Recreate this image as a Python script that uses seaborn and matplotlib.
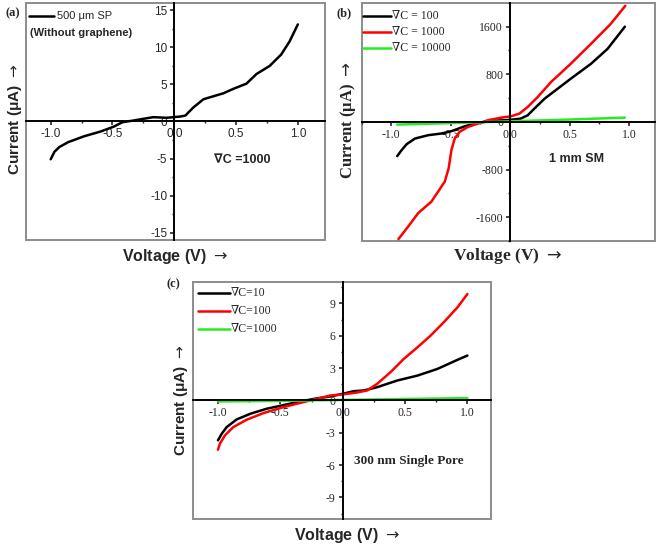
import numpy as np
import pandas as pd
import matplotlib
matplotlib.use("Agg")
from matplotlib import pyplot as plt
from matplotlib.patches import Rectangle
from matplotlib.ticker import MultipleLocator, FormatStrFormatter
import seaborn as sns

sns.set_style("white")
plt.rcParams['font.family'] = ['Liberation Sans', 'DejaVu Sans']
plt.rcParams['axes.unicode_minus'] = False
plt.rcParams['mathtext.fontset'] = 'dejavusans'
SERIF = ['Liberation Serif', 'DejaVu Serif']

# Panel (a): 500 um SP, without graphene
va = [-1.0, -0.97, -0.93, -0.86, -0.73, -0.595, -0.49, -0.42, -0.33, -0.25, -0.17,
      -0.06, 0.05, 0.09, 0.155, 0.236, 0.316, 0.397, 0.477, 0.584, 0.665, 0.772,
      0.866, 0.933, 1.0]
ia = [-5.1, -4.1, -3.45, -2.8, -2.0, -1.35, -0.7, -0.1, 0.13, 0.36, 0.58,
      0.5, 0.67, 0.8, 1.9, 3.0, 3.4, 3.8, 4.4, 5.1, 6.4, 7.5,
      9.05, 10.8, 13.1]

# Panel (b): 1 mm SM
vb_100 = [-0.95, -0.913, -0.87, -0.80, -0.69, -0.578, -0.494, -0.38, -0.27, -0.16,
          -0.047, 0.02, 0.09, 0.148, 0.204, 0.29, 0.40, 0.51, 0.68, 0.82, 0.966]
ib_100 = [-574, -474, -373, -279, -223, -195, -156, -72, -17, 17,
          28, 39, 56, 111, 223, 390, 557, 725, 975, 1226, 1600]
vb_1000 = [-0.94, -0.857, -0.774, -0.662, -0.606, -0.55, -0.517, -0.494, -0.466, -0.425,
           -0.355, -0.27, -0.187, -0.075, 0.008, 0.078, 0.148, 0.232, 0.344, 0.51,
           0.68, 0.846, 0.97]
ib_1000 = [-1968, -1756, -1533, -1338, -1171, -1003, -780, -474, -279, -167,
           -84, -28, 28, 72, 95, 139, 251, 418, 669, 975,
           1310, 1644, 1951]
vb_10000 = [-0.95, -0.5, 0.0, 0.5, 0.966]
ib_10000 = [-45, -20, 10, 40, 72]

# Panel (c): 300 nm single pore
vc_10 = [-1.0, -0.97, -0.93, -0.85, -0.74, -0.61, -0.475, -0.34, -0.21, -0.10,
         0.0, 0.088, 0.17, 0.276, 0.437, 0.6, 0.76, 0.92, 1.0]
ic_10 = [-3.7, -3.09, -2.47, -1.76, -1.23, -0.77, -0.43, -0.09, 0.19, 0.37,
         0.62, 0.86, 0.93, 1.23, 1.85, 2.31, 2.93, 3.77, 4.17]
vc_100 = [-1.0, -0.984, -0.944, -0.877, -0.77, -0.635, -0.475, -0.314, -0.206, -0.1,
          0.0, 0.115, 0.196, 0.276, 0.383, 0.49, 0.6, 0.705, 0.81, 0.92, 1.0]
ic_100 = [-4.57, -4.0, -3.24, -2.47, -1.79, -1.17, -0.62, -0.15, 0.15, 0.46,
          0.56, 0.74, 0.93, 1.54, 2.62, 3.86, 4.94, 6.02, 7.25, 8.64, 9.88]
vc_1000 = [-1.0, -0.5, 0.0, 0.5, 1.0]
ic_1000 = [-0.09, -0.04, 0.05, 0.14, 0.22]

GREEN = '#22ee22'
XLABEL = r'Voltage (V) $\rightarrow$'
YLABEL = r'Current (μA) $\rightarrow$'


def draw(ax, v, i, color):
    df = pd.DataFrame({'v': v, 'i': i})
    sns.lineplot(data=df, x='v', y='i', color=color, linewidth=1.8, sort=False,
                 estimator=None, ax=ax, legend=False)


def style_axes(ax, xlim, ylim, ystep, tickfont, tsize):
    ax.set_xlim(*xlim)
    ax.set_ylim(*ylim)
    for s in ['top', 'right']:
        ax.spines[s].set_visible(False)
    for s in ['left', 'bottom']:
        ax.spines[s].set_position('zero')
        ax.spines[s].set_linewidth(1.4)
        ax.spines[s].set_color('black')
    ax.add_patch(Rectangle((0, 0), 1, 1, transform=ax.transAxes, fill=False,
                           ec='#8c8c8c', lw=1.4, clip_on=False, zorder=0))
    ax.xaxis.set_major_locator(MultipleLocator(0.5))
    ax.xaxis.set_minor_locator(MultipleLocator(0.25))
    ax.xaxis.set_major_formatter(FormatStrFormatter('%.1f'))
    ax.yaxis.set_major_locator(MultipleLocator(ystep))
    ax.yaxis.set_minor_locator(MultipleLocator(ystep / 2))
    ax.tick_params(which='major', direction='out', length=3, width=1.2,
                   bottom=True, left=True, pad=2)
    ax.tick_params(which='minor', direction='out', length=1.5, width=1,
                   bottom=True, left=True)
    for lab in ax.get_xticklabels() + ax.get_yticklabels():
        lab.set_fontfamily(tickfont)
        lab.set_fontsize(tsize)
    ax.set_xlabel('')
    ax.set_ylabel('')
    ax.grid(False)


fig = plt.figure(figsize=(6.61, 5.45), dpi=100)
ax_a = fig.add_axes([0.0393, 0.5596, 0.4524, 0.435])
ax_b = fig.add_axes([0.547, 0.5578, 0.444, 0.437])
ax_c = fig.add_axes([0.292, 0.0477, 0.451, 0.435])

# ---- (a)
draw(ax_a, va, ia, 'black')
style_axes(ax_a, (-1.2, 1.22), (-16, 16), 5, 'Liberation Sans', 8.5)
ax_a.plot([0.01, 0.095], [0.945, 0.945], color='black', lw=1.8, transform=ax_a.transAxes)
ax_a.text(0.103, 0.945, '500 μm SP', transform=ax_a.transAxes, va='center',
          fontsize=8)
ax_a.text(0.015, 0.875, '(Without graphene)', transform=ax_a.transAxes, va='center',
          fontsize=8, fontweight='bold')
ax_a.text(0.63, 0.338, '∇C =1000', transform=ax_a.transAxes, va='center',
          fontsize=9, fontweight='bold')

# ---- (b)
draw(ax_b, vb_100, ib_100, 'black')
draw(ax_b, vb_1000, ib_1000, 'red')
draw(ax_b, vb_10000, ib_10000, GREEN)
style_axes(ax_b, (-1.25, 1.22), (-2000, 2000), 800, SERIF, 8.5)
for k, (lab, col) in enumerate([('∇C = 100', 'black'), ('∇C = 1000', 'red'),
                                ('∇C = 10000', GREEN)]):
    yy = 0.945 - k * 0.068
    ax_b.plot([0.005, 0.1], [yy, yy], color=col, lw=1.8, transform=ax_b.transAxes)
    ax_b.text(0.105, yy, lab, transform=ax_b.transAxes, va='center',
              fontsize=8.5, family=SERIF)
ax_b.text(0.64, 0.345, '1 mm SM', transform=ax_b.transAxes, va='center',
          fontsize=9, fontweight='bold')

# ---- (c)
draw(ax_c, vc_10, ic_10, 'black')
draw(ax_c, vc_100, ic_100, 'red')
draw(ax_c, vc_1000, ic_1000, GREEN)
style_axes(ax_c, (-1.2, 1.19), (-11, 11), 3, SERIF, 8.5)
for k, (lab, col) in enumerate([('∇C=10', 'black'), ('∇C=100', 'red'),
                                ('∇C=1000', GREEN)]):
    yy = 0.955 - k * 0.077
    ax_c.plot([0.017, 0.124], [yy, yy], color=col, lw=1.8, transform=ax_c.transAxes)
    ax_c.text(0.128, yy, lab, transform=ax_c.transAxes, va='center',
              fontsize=8.5, family=SERIF)
ax_c.text(0.54, 0.245, '300 nm Single Pore', transform=ax_c.transAxes, va='center',
          fontsize=9.5, fontweight='bold', family=SERIF)

# axis labels and panel letters
fig.text(0.022, 0.78, YLABEL, rotation=90, ha='center', va='center',
         fontsize=11, fontweight='bold')
fig.text(0.265, 0.53, XLABEL, ha='center', va='center',
         fontsize=11.5, fontweight='bold')
fig.text(0.526, 0.78, YLABEL, rotation=90, ha='center', va='center',
         fontsize=12, fontweight='bold', family=SERIF)
fig.text(0.767, 0.53, XLABEL, ha='center', va='center',
         fontsize=12.5, fontweight='bold', family=SERIF)
fig.text(0.274, 0.265, YLABEL, rotation=90, ha='center', va='center',
         fontsize=11, fontweight='bold')
fig.text(0.525, 0.018, XLABEL, ha='center', va='center',
         fontsize=11.5, fontweight='bold')

for x, y, s in [(0.008, 0.975, '(a)'), (0.509, 0.975, '(b)'), (0.252, 0.478, '(c)')]:
    fig.text(x, y, s, fontsize=9, fontweight='bold', family=SERIF,
             va='center')

fig.savefig('out.png', dpi=100)
